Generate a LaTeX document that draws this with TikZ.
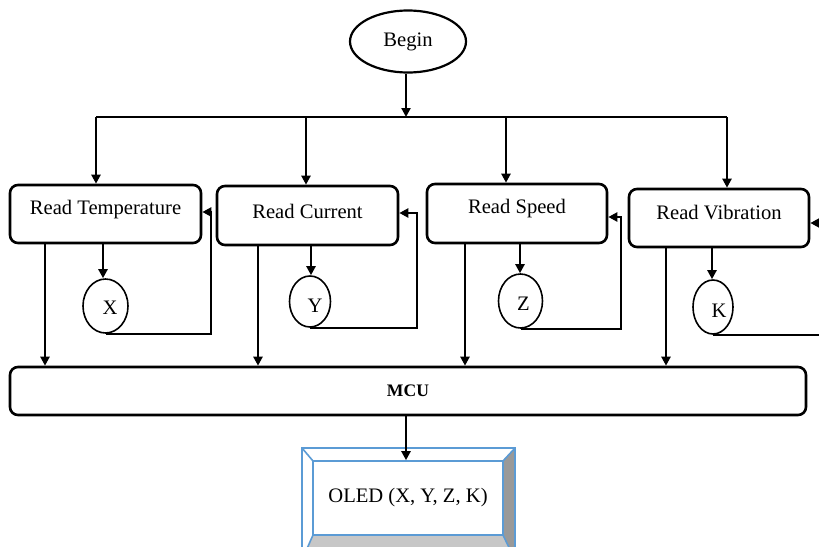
\documentclass[tikz,border=0pt]{standalone}
\usepackage{fontspec}
\setmainfont{Liberation Serif}
\usetikzlibrary{arrows.meta,shapes.geometric}
\definecolor{bevelblue}{HTML}{5B9BD5}
\tikzset{
  ln/.style={line width=2.6pt, draw=black},
  arr/.style={ln, -{Triangle[length=9pt,width=9pt]}},
  rbox/.style={draw=black, line width=2.6pt, rounded corners=8pt, inner sep=0pt},
  oval/.style={draw=black, line width=1.6pt, ellipse, inner sep=0pt},
  txt/.style={font=\fontsize{20.6}{24}\selectfont},
}
\begin{document}
\begin{tikzpicture}[x=1pt,y=-1pt]
\useasboundingbox (0,0) rectangle (819,546);
% Begin
\node[oval, line width=2.2pt, minimum width=116pt, minimum height=62pt, txt] (begin) at (408,41.5) {Begin};
% sensor boxes
\node[rbox, minimum width=191pt, minimum height=58pt, label={[txt,yshift=4pt]center:Read Temperature}] (b1) at (105.5,214) {};
\node[rbox, minimum width=181pt, minimum height=59pt, label={[txt,yshift=4pt]center:Read Current}] (b2) at (307.5,215.5) {};
\node[rbox, minimum width=180pt, minimum height=59pt, label={[txt,yshift=5pt]center:Read Speed}] (b3) at (517,213.5) {};
\node[rbox, minimum width=180pt, minimum height=58pt, label={[txt,yshift=5pt]center:Read Vibration}] (b4) at (719,218) {};
% variable ovals
\node[oval, minimum width=45pt, minimum height=54pt, label={[txt,xshift=4.5pt,yshift=-2pt]center:X}] (x) at (105.5,306) {};
\node[oval, minimum width=41pt, minimum height=51pt, label={[txt,xshift=5pt,yshift=-4pt]center:Y}] (y) at (310,301.5) {};
\node[oval, minimum width=44pt, minimum height=54pt, label={[txt,xshift=3pt,yshift=-3pt]center:Z}] (z) at (520.5,301) {};
\node[oval, minimum width=40pt, minimum height=54pt, label={[txt,xshift=6pt,yshift=-4pt]center:K}] (k) at (713,307) {};
% MCU
\node[rbox, minimum width=796pt, minimum height=48pt, font=\fontsize{17.6}{20}\selectfont\bfseries] (mcu) at (408,391) {MCU};
% OLED bevel box
\coordinate (o1) at (302,448);
\coordinate (o2) at (515,448);
\coordinate (o3) at (515,560);
\coordinate (o4) at (302,560);
\coordinate (i1) at (313,461);
\coordinate (i2) at (503,461);
\coordinate (i3) at (503,535);
\coordinate (i4) at (313,535);
\fill[white] (o1) -- (o2) -- (i2) -- (i1) -- cycle;
\fill[white] (o1) -- (i1) -- (i4) -- (o4) -- cycle;
\fill[black!40] (o2) -- (o3) -- (i3) -- (i2) -- cycle;
\fill[black!22] (o4) -- (o3) -- (i3) -- (i4) -- cycle;
\draw[bevelblue, line width=1.6pt] (o1) rectangle (o3);
\draw[bevelblue, line width=1.6pt] (o1) -- (i1) (o2) -- (i2) (o3) -- (i3) (o4) -- (i4);
\node[draw=bevelblue, line width=1.6pt, fill=white, minimum width=190pt, minimum height=74pt, inner sep=0pt, txt] (oled) at (408,498) {OLED (X, Y, Z, K)};
% connectors from Begin
\coordinate (hub) at (406,117);
\draw[arr] (begin.south -| hub) -- (hub);
\coordinate (hl) at (96,117);
\coordinate (hr) at (727,117);
\draw[ln] (hl) -- (hr);
\draw[arr] (hl) -- (hl |- b1.north);
\draw[arr] (306,117) -- (306,0 |- b2.north);
\draw[arr] (506,117) -- (506,0 |- b3.north);
\draw[arr] (hr) -- (hr |- b4.north);
% box to oval
\draw[arr] (103,0 |- b1.south) -- (103,0 |- x.north);
\draw[arr] (311,0 |- b2.south) -- (311,0 |- y.north);
\draw[arr] (520,0 |- b3.south) -- (520,0 |- z.north);
\draw[arr] (712,0 |- b4.south) -- (712,0 |- k.north);
% feedback loops
\draw[arr] (x.south) -| (211,212) -- (b1.east |- 0,212);
\draw[arr] (y.south) -| (417,213) -- (b2.east |- 0,213);
\draw[arr] (z.south) -| (621,217) -- (b3.east |- 0,217);
\draw[ln] (k.south) -- (821,0 |- k.south);
\draw[arr] (821,223) -- (b4.east |- 0,223);
% boxes to MCU
\draw[arr] (45,0 |- b1.south) -- (45,0 |- mcu.north);
\draw[arr] (258,0 |- b2.south) -- (258,0 |- mcu.north);
\draw[arr] (465,0 |- b3.south) -- (465,0 |- mcu.north);
\draw[arr] (666,0 |- b4.south) -- (666,0 |- mcu.north);
% MCU to OLED
\draw[arr] (406,0 |- mcu.south) -- (406,0 |- oled.north);
\end{tikzpicture}
\end{document}
